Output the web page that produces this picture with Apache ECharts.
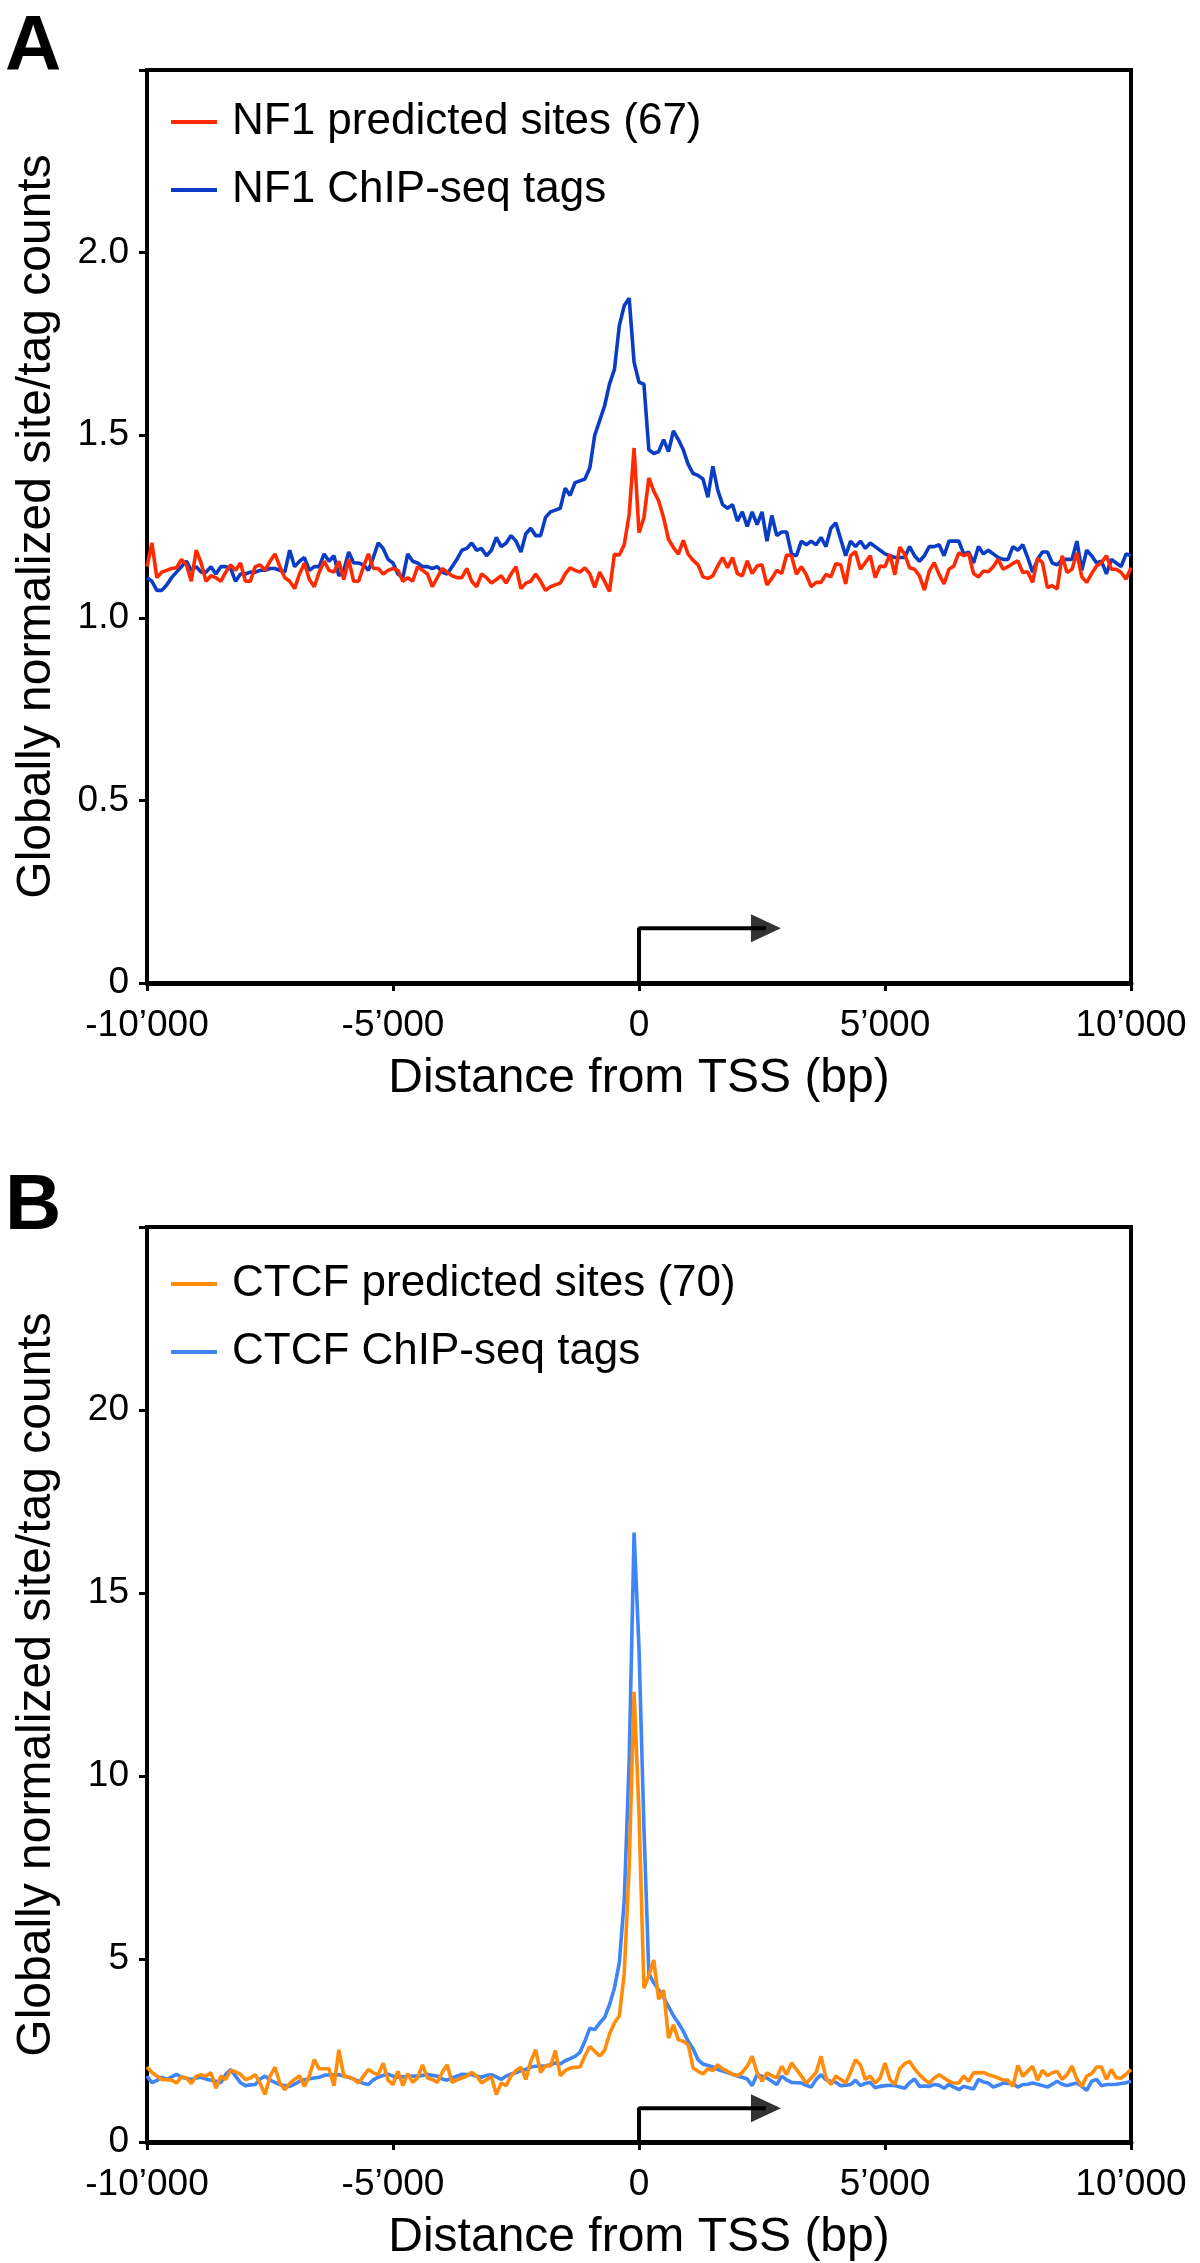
<!DOCTYPE html>
<html>
<head>
<meta charset="utf-8">
<title>NF1 / CTCF TSS profiles</title>
<script src="https://cdn.jsdelivr.net/npm/echarts@6/dist/echarts.min.js"></script>
<style>
  html, body { margin: 0; padding: 0; background: #fff; }
  #chart { width: 1200px; height: 2263px; }
</style>
</head>
<body>
<div id="chart"></div>
<script>
// bins of 100 bp from -10'000 to +10'000
var binStart = -10000;
var binStep = 100;

var xTicks = [-10000, -5000, 0, 5000, 10000];
var xTickLabels = ["-10\u2019000", "-5\u2019000", "0", "5\u2019000", "10\u2019000"];

var yTicksA = [0, 0.5, 1, 1.5, 2, 2.5];
var yLabelsA = ["0", "0.5", "1.0", "1.5", "2.0", ""];
var yTicksB = [0, 5, 10, 15, 20, 25];
var yLabelsB = ["0", "5", "10", "15", "20", ""];

var namesA = ["NF1 predicted sites (67)", "NF1 ChIP-seq tags"];
var namesB = ["CTCF predicted sites (70)", "CTCF ChIP-seq tags"];

// panel A
var nf1Predicted = [
  1.14, 1.205, 1.11, 1.125, 1.13, 1.135, 1.137, 1.16, 1.145, 1.10,
  1.185, 1.15, 1.10, 1.115, 1.11, 1.10, 1.125, 1.145, 1.13, 1.15,
  1.10, 1.10, 1.14, 1.145, 1.13, 1.155, 1.175, 1.14, 1.11, 1.10,
  1.08, 1.12, 1.15, 1.105, 1.085, 1.125, 1.155, 1.13, 1.125, 1.155,
  1.105, 1.16, 1.10, 1.10, 1.14, 1.175, 1.135, 1.135, 1.12, 1.13,
  1.135, 1.13, 1.10, 1.11, 1.10, 1.14, 1.13, 1.12, 1.085, 1.11,
  1.135, 1.125, 1.115, 1.11, 1.11, 1.135, 1.10, 1.085, 1.12, 1.11,
  1.095, 1.105, 1.115, 1.095, 1.12, 1.14, 1.08, 1.095, 1.10, 1.12,
  1.10, 1.075, 1.085, 1.09, 1.095, 1.12, 1.137, 1.13, 1.125, 1.137,
  1.12, 1.083, 1.125, 1.10, 1.072, 1.174, 1.172, 1.20, 1.283, 1.465,
  1.233, 1.274, 1.383, 1.347, 1.32, 1.274, 1.215, 1.192, 1.174, 1.212,
  1.174, 1.157, 1.145, 1.112, 1.108, 1.115, 1.142, 1.165, 1.137, 1.165,
  1.121, 1.115, 1.156, 1.121, 1.142, 1.145, 1.09, 1.108, 1.13, 1.121,
  1.172, 1.17, 1.119, 1.14, 1.118, 1.085, 1.097, 1.097, 1.119, 1.112,
  1.148, 1.145, 1.093, 1.17, 1.181, 1.133, 1.151, 1.17, 1.11, 1.142,
  1.14, 1.174, 1.118, 1.194, 1.174, 1.137, 1.133, 1.115, 1.076, 1.128,
  1.151, 1.119, 1.093, 1.133, 1.142, 1.178, 1.17, 1.176, 1.121, 1.112,
  1.128, 1.126, 1.14, 1.16, 1.133, 1.14, 1.149, 1.156, 1.124, 1.126,
  1.097, 1.163, 1.151, 1.083, 1.088, 1.079, 1.17, 1.124, 1.133, 1.178,
  1.112, 1.097, 1.121, 1.142, 1.151, 1.17, 1.133, 1.133, 1.124, 1.106,
  1.137
];
var nf1Chip = [
  1.11, 1.10, 1.075, 1.075, 1.09, 1.11, 1.125, 1.14, 1.155, 1.13,
  1.14, 1.125, 1.125, 1.14, 1.12, 1.14, 1.14, 1.135, 1.10, 1.12,
  1.12, 1.125, 1.125, 1.13, 1.13, 1.135, 1.135, 1.13, 1.125, 1.185,
  1.14, 1.155, 1.165, 1.13, 1.14, 1.14, 1.175, 1.155, 1.17, 1.115,
  1.13, 1.18, 1.15, 1.15, 1.145, 1.13, 1.165, 1.205, 1.19, 1.16,
  1.15, 1.12, 1.11, 1.175, 1.155, 1.15, 1.14, 1.14, 1.135, 1.14,
  1.125, 1.12, 1.14, 1.16, 1.185, 1.19, 1.205, 1.185, 1.19, 1.17,
  1.185, 1.22, 1.195, 1.205, 1.225, 1.21, 1.18, 1.23, 1.245, 1.225,
  1.225, 1.275, 1.29, 1.295, 1.30, 1.355, 1.335, 1.37, 1.375, 1.38,
  1.41, 1.50, 1.54, 1.58, 1.64, 1.68, 1.80, 1.855, 1.875, 1.70,
  1.645, 1.64, 1.46, 1.45, 1.455, 1.488, 1.455, 1.512, 1.488, 1.46,
  1.42, 1.395, 1.39, 1.38, 1.33, 1.415, 1.35, 1.31, 1.30, 1.31,
  1.265, 1.29, 1.25, 1.29, 1.255, 1.29, 1.21, 1.28, 1.225, 1.235,
  1.235, 1.175, 1.17, 1.21, 1.20, 1.21, 1.20, 1.22, 1.195, 1.245,
  1.26, 1.215, 1.17, 1.21, 1.195, 1.21, 1.19, 1.205, 1.195, 1.185,
  1.175, 1.17, 1.165, 1.165, 1.165, 1.195, 1.17, 1.155, 1.17, 1.195,
  1.195, 1.20, 1.17, 1.21, 1.21, 1.21, 1.175, 1.18, 1.15, 1.195,
  1.175, 1.185, 1.175, 1.165, 1.16, 1.16, 1.195, 1.185, 1.20, 1.165,
  1.125, 1.16, 1.18, 1.18, 1.15, 1.145, 1.16, 1.16, 1.16, 1.21,
  1.13, 1.185, 1.17, 1.15, 1.155, 1.12, 1.16, 1.15, 1.14, 1.175,
  1.17
];

// panel B
var ctcfPredicted = [
  2.05, 1.90, 1.80, 1.71, 1.70, 1.69, 1.61, 1.78, 1.75, 1.60,
  1.80, 1.84, 1.80, 1.89, 1.47, 1.80, 1.71, 1.96, 1.92, 1.85,
  1.71, 1.75, 1.84, 1.60, 1.30, 1.80, 2.04, 1.61, 1.43, 1.60,
  1.71, 1.81, 1.52, 1.81, 2.25, 2.00, 2.00, 2.00, 1.54, 2.52,
  1.80, 1.78, 1.72, 1.61, 1.80, 1.98, 1.89, 1.84, 2.15, 1.69,
  1.57, 1.93, 1.54, 1.87, 1.63, 1.75, 2.11, 1.75, 1.71, 1.63,
  1.90, 2.11, 1.63, 1.70, 1.75, 1.80, 1.90, 1.81, 1.61, 1.70,
  1.78, 1.30, 1.61, 1.54, 1.81, 1.95, 2.04, 1.71, 2.20, 2.52,
  1.90, 2.09, 2.07, 2.50, 1.81, 1.95, 2.02, 2.04, 2.05, 2.35,
  2.61, 2.48, 2.35, 2.50, 2.95, 3.25, 3.45, 4.6, 7.5, 12.3,
  9.0, 4.2, 4.55, 4.97, 3.9, 4.15, 2.84, 3.2, 2.79, 2.75,
  2.66, 2.02, 1.93, 1.86, 2.0, 1.95, 2.11, 2.0, 1.93, 1.85,
  1.81, 1.90, 2.07, 2.34, 1.90, 1.66, 1.89, 1.81, 1.75, 2.07,
  1.84, 2.16, 1.98, 1.80, 1.61, 1.75, 1.90, 2.34, 1.75, 1.57,
  1.80, 1.71, 1.61, 1.90, 2.25, 2.11, 1.71, 1.80, 1.61, 1.75,
  2.16, 1.71, 1.57, 2.0, 2.14, 2.20, 2.0, 1.84, 1.71, 1.61,
  1.75, 1.84, 1.75, 1.66, 1.61, 1.61, 1.80, 1.66, 1.89, 1.89,
  1.90, 1.84, 1.80, 1.75, 1.69, 1.69, 1.52, 2.09, 1.80, 1.93,
  2.07, 1.69, 1.96, 1.81, 1.89, 1.93, 1.71, 1.84, 2.07, 1.72,
  1.52, 1.80, 1.87, 2.05, 2.05, 1.71, 1.98, 1.75, 1.75, 1.85,
  1.98
];
var ctcfChip = [
  1.80, 1.62, 1.68, 1.77, 1.71, 1.78, 1.85, 1.77, 1.74, 1.71,
  1.75, 1.77, 1.72, 1.69, 1.66, 1.62, 1.85, 1.98, 1.80, 1.62,
  1.54, 1.56, 1.57, 1.72, 1.80, 1.69, 1.63, 1.57, 1.54, 1.52,
  1.58, 1.66, 1.70, 1.73, 1.75, 1.77, 1.82, 1.84, 1.83, 1.84,
  1.80, 1.77, 1.72, 1.66, 1.60, 1.57, 1.70, 1.77, 1.82, 1.85,
  1.80, 1.77, 1.78, 1.79, 1.80, 1.80, 1.82, 1.85, 1.82, 1.80,
  1.72, 1.69, 1.75, 1.80, 1.85, 1.84, 1.84, 1.80, 1.77, 1.82,
  1.84, 1.78, 1.71, 1.80, 1.86, 1.89, 1.95, 1.98, 2.05, 2.07,
  2.07, 2.08, 2.12, 2.16, 2.13, 2.22, 2.28, 2.34, 2.45, 2.75,
  3.11, 3.07, 3.25, 3.40, 3.75, 4.20, 4.90, 6.6, 10.4, 16.65,
  13.5, 8.6, 4.6, 4.35, 4.15, 3.95, 3.70, 3.45, 3.25, 3.03,
  2.75, 2.55, 2.25, 2.13, 2.09, 2.05, 1.98, 1.94, 1.90, 1.85,
  1.80, 1.77, 1.72, 1.54, 1.84, 1.80, 1.75, 1.66, 1.57, 1.80,
  1.70, 1.63, 1.62, 1.61, 1.55, 1.50, 1.71, 1.84, 1.70, 1.66,
  1.63, 1.54, 1.55, 1.57, 1.69, 1.54, 1.60, 1.63, 1.48, 1.52,
  1.54, 1.55, 1.54, 1.50, 1.47, 1.62, 1.72, 1.52, 1.53, 1.52,
  1.57, 1.55, 1.47, 1.57, 1.50, 1.43, 1.52, 1.48, 1.45, 1.71,
  1.64, 1.61, 1.50, 1.55, 1.61, 1.60, 1.60, 1.50, 1.57, 1.58,
  1.61, 1.58, 1.54, 1.50, 1.58, 1.66, 1.58, 1.54, 1.58, 1.61,
  1.52, 1.41, 1.66, 1.71, 1.54, 1.57, 1.57, 1.58, 1.60, 1.62,
  1.66
];

// TSS arrow (bp, value) and arrow head position
var tssArrowA = [[0, 0], [0, 0.15], [2580, 0.15]];
var tssHeadA = [[2580, 0.15]];
var tssArrowB = [[0, 0], [0, 0.92], [2580, 0.92]];
var tssHeadB = [[2580, 0.92]];

var FONT = "'Liberation Sans', Helvetica, Arial, sans-serif";

function toPairs(vals) {
  return vals.map(function (v, i) {
    return [binStart + i * binStep, v];
  });
}

function labelFrom(ticks, labels) {
  return function (v) {
    for (var i = 0; i < ticks.length; i++) {
      if (Math.abs(ticks[i] - v) < 1e-9) return labels[i];
    }
    return "";
  };
}

function makeX(idx) {
  return {
    gridIndex: idx,
    type: "value",
    min: -10000,
    max: 10000,
    interval: 5000,
    name: "Distance from TSS (bp)",
    nameLocation: "middle",
    nameGap: 72,
    nameTextStyle: { fontSize: 48, color: "#000", fontFamily: FONT },
    axisLine: { onZero: false, lineStyle: { color: "#000", width: 5 } },
    axisTick: { length: 8, lineStyle: { color: "#000", width: 3 } },
    axisLabel: {
      fontSize: 37, color: "#000", fontFamily: FONT, margin: 24,
      formatter: labelFrom(xTicks, xTickLabels)
    },
    splitLine: { show: false }
  };
}

function makeY(idx, max, interval, ticks, labels) {
  return {
    gridIndex: idx,
    type: "value",
    min: 0,
    max: max,
    interval: interval,
    name: "Globally normalized site/tag counts",
    nameLocation: "middle",
    nameGap: 86,
    nameTextStyle: { fontSize: 48, color: "#000", fontFamily: FONT },
    axisLine: { show: true, onZero: false, lineStyle: { color: "#000", width: 4 } },
    axisTick: { show: true, length: 8, lineStyle: { color: "#000", width: 3 } },
    axisLabel: {
      fontSize: 37, color: "#000", fontFamily: FONT, margin: 18,
      formatter: labelFrom(ticks, labels)
    },
    splitLine: { show: false }
  };
}

function lineSeries(name, vals, color, idx) {
  return {
    name: name,
    type: "line",
    xAxisIndex: idx,
    yAxisIndex: idx,
    data: toPairs(vals),
    symbol: "none",
    lineStyle: { color: color, width: 3.6 },
    itemStyle: { color: color }
  };
}

function arrowSeries(path, head, idx) {
  return [{
    name: "tss" + idx,
    type: "line",
    xAxisIndex: idx,
    yAxisIndex: idx,
    data: path,
    symbol: "none",
    lineStyle: { color: "#000", width: 4 },
    z: 1
  }, {
    name: "tssHead" + idx,
    type: "scatter",
    xAxisIndex: idx,
    yAxisIndex: idx,
    data: head,
    symbol: "triangle",
    symbolSize: [28, 30],
    symbolRotate: -90,
    itemStyle: { color: "#000" },
    z: 1
  }];
}

function makeLegend(top, names) {
  return {
    data: names,
    orient: "vertical",
    left: 166,
    top: top,
    itemGap: 20,
    itemWidth: 46,
    itemHeight: 4,
    icon: "rect",
    selectedMode: false,
    textStyle: {
      fontSize: 44, lineHeight: 48, color: "#000", fontFamily: FONT,
      padding: [0, 0, 0, 10]
    }
  };
}

var chart = echarts.init(document.getElementById("chart"));

var option = {
  animation: false,
  backgroundColor: "#fff",
  title: [
    { text: "A", left: 0, top: 4, textStyle: { fontSize: 78, fontWeight: "bold", color: "#000", fontFamily: FONT } },
    { text: "B", left: 0, top: 1163, textStyle: { fontSize: 78, fontWeight: "bold", color: "#000", fontFamily: FONT } }
  ],
  legend: [makeLegend(93, namesA), makeLegend(1255, namesB)],
  grid: [
    { left: 147, top: 70, width: 984, height: 913, show: true, borderColor: "#000", borderWidth: 4 },
    { left: 147, top: 1227, width: 984, height: 919, show: true, borderColor: "#000", borderWidth: 4 }
  ],
  xAxis: [makeX(0), makeX(1)],
  yAxis: [
    makeY(0, 2.5, 0.5, yTicksA, yLabelsA),
    makeY(1, 25, 5, yTicksB, yLabelsB)
  ],
  series: [
    lineSeries(namesA[1], nf1Chip, "#0a3cc4", 0),
    lineSeries(namesA[0], nf1Predicted, "#ff2a00", 0),
    lineSeries(namesB[1], ctcfChip, "#4085f5", 1),
    lineSeries(namesB[0], ctcfPredicted, "#ff8c0a", 1)
  ].concat(arrowSeries(tssArrowA, tssHeadA, 0), arrowSeries(tssArrowB, tssHeadB, 1))
};

chart.setOption(option);
</script>
</body>
</html>
